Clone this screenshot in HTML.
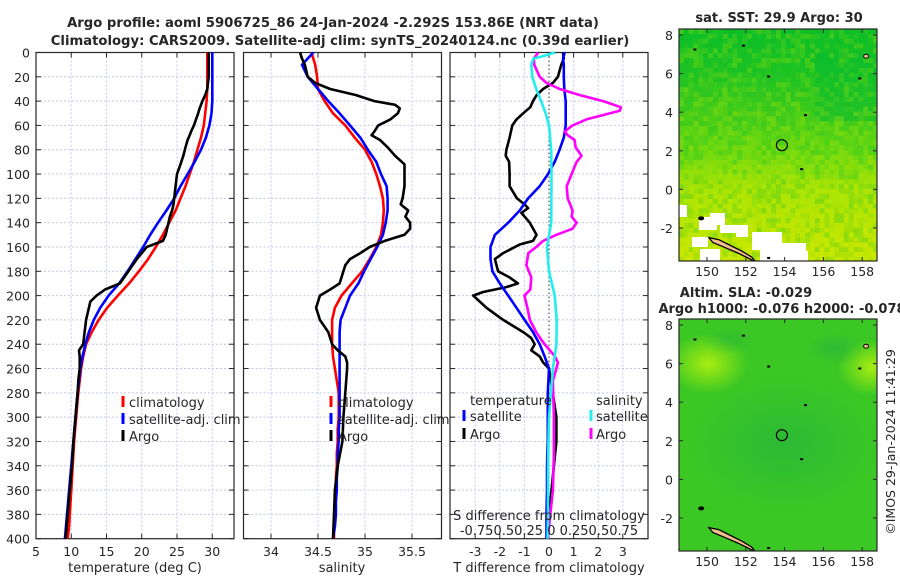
<!DOCTYPE html>
<html><head><meta charset="utf-8"><style>
body{margin:0;background:#fff}
svg{display:block;font-family:"DejaVu Sans","Liberation Sans",sans-serif}
text{fill:#262626}
</style></head><body>
<svg id="c" width="900" height="580" viewBox="0 0 900 580" xmlns="http://www.w3.org/2000/svg">
<defs>
<radialGradient id="yl" cx="0.5" cy="0.5" r="0.5"><stop offset="0" stop-color="#a8ec10"/><stop offset="1" stop-color="#a8ec10" stop-opacity="0"/></radialGradient>
<radialGradient id="dk" cx="0.5" cy="0.5" r="0.5"><stop offset="0" stop-color="#1fae44"/><stop offset="1" stop-color="#1fae44" stop-opacity="0"/></radialGradient>
<clipPath id="m1c"><rect x="679" y="29" width="198" height="232"/></clipPath>
<clipPath id="m2c"><rect x="679" y="319" width="198" height="232"/></clipPath>
</defs>
<g id="layer"></g>
</svg>
<script>
// ---- profile data (depth in m) ----
const depthsClim = [0,10,20,30,40,50,60,70,80,90,100,110,120,130,140,150,160,170,180,190,200,210,220,230,240,250,260,270,280,290,300,310,320,330,340,350,360,370,380,390,400];
const tempClim = [29.3,29.3,29.3,29.3,29.2,29.0,28.8,28.4,27.9,27.4,26.8,26.2,25.5,24.8,23.9,23.0,22.0,20.9,19.6,18.2,16.6,15.1,13.9,12.9,12.1,11.7,11.4,11.2,11.0,10.85,10.7,10.55,10.4,10.3,10.2,10.1,10.0,9.9,9.8,9.7,9.5];
const tempSat = [30.0,30.0,30.0,30.0,30.0,29.9,29.6,29.1,28.4,27.5,26.5,25.5,24.6,23.5,22.3,21.2,20.2,19.1,18.0,16.8,15.3,14.1,13.2,12.5,12.0,11.6,11.3,11.1,10.9,10.75,10.6,10.45,10.3,10.15,10.0,9.85,9.7,9.55,9.4,9.25,9.1];
const salClim = [34.43,34.47,34.49,34.50,34.57,34.66,34.79,34.89,35.00,35.07,35.12,35.16,35.19,35.20,35.19,35.17,35.12,35.05,34.97,34.86,34.75,34.68,34.65,34.65,34.65,34.66,34.68,34.70,34.72,34.72,34.72,34.71,34.71,34.70,34.70,34.69,34.69,34.68,34.68,34.67,34.67];
const salSat = [34.45,34.33,34.39,34.50,34.61,34.73,34.84,34.95,35.03,35.12,35.17,35.23,35.24,35.24,35.22,35.19,35.13,35.06,34.99,34.93,34.84,34.79,34.74,34.73,34.73,34.73,34.73,34.73,34.73,34.73,34.73,34.72,34.72,34.71,34.71,34.70,34.70,34.69,34.69,34.68,34.66];
const depthsArgo = [0,5,10,20,25,30,35,40,43,46,50,55,60,65,68,72,78,85,92,100,110,120,125,130,135,140,145,150,155,160,165,170,175,180,190,195,200,205,210,215,220,230,240,245,250,255,260,270,280,300,320,340,360,380,400];
const tempArgo = [29.5,29.5,29.5,29.5,29.4,29.3,29.0,28.6,28.4,28.2,28.0,27.7,27.4,27.0,26.8,26.5,26.2,25.9,25.5,25.0,24.8,24.6,24.5,24.3,24.0,23.8,23.6,23.4,23.0,20.7,20.0,19.3,18.7,18.1,16.9,14.8,13.6,12.7,12.5,12.3,12.1,11.9,11.7,11.1,11.2,11.2,11.2,11.0,10.9,10.6,10.3,10.1,9.8,9.5,9.2];
const salArgo = [34.31,34.33,34.36,34.39,34.47,34.63,34.90,35.10,35.32,35.37,35.35,35.27,35.14,35.10,35.07,35.16,35.24,35.32,35.42,35.42,35.42,35.40,35.38,35.46,35.43,35.48,35.48,35.42,35.21,35.05,34.95,34.84,34.79,34.77,34.73,34.63,34.52,34.50,34.48,34.50,34.52,34.61,34.65,34.71,34.79,34.81,34.81,34.80,34.79,34.77,34.76,34.71,34.68,34.67,34.66];
// ---- differences from climatology (panel 3) ----
const depthsArgoDiffT = [0,5,10,15,20,25,30,35,40,45,50,55,60,70,80,85,90,100,110,120,125,128,132,140,150,155,158,165,170,180,185,190,193,197,200,210,220,230,235,240,245,250,255,260,280,300,320,340,360,380,400];
const tArgoDiff = [0.57,0.6,0.5,0.43,0.36,0.16,-0.24,-0.5,-0.65,-0.76,-1.05,-1.32,-1.49,-1.6,-1.73,-1.76,-1.62,-1.6,-1.6,-1.3,-0.99,-0.85,-1.12,-0.78,-0.51,-0.65,-1.19,-1.86,-2.2,-2.07,-1.6,-1.26,-1.73,-2.68,-3.08,-2.54,-1.86,-1.05,-0.72,-0.58,-0.72,-0.38,-0.24,0.0,0.15,0.3,0.3,0.2,0.1,0.0,-0.05];
const depthsSatDiffT = [0,5,10,20,30,40,50,60,70,80,90,100,110,120,130,140,150,160,170,180,190,200,210,220,230,240,250,260,280,300,320,340,360,380,400];
const tSatDiff = [0.64,0.57,0.6,0.6,0.62,0.68,0.68,0.68,0.6,0.43,0.23,-0.04,-0.38,-0.85,-1.19,-1.66,-2.2,-2.38,-2.38,-2.3,-2.0,-1.66,-1.32,-0.99,-0.65,-0.38,-0.18,0.0,-0.05,-0.05,-0.05,-0.08,-0.08,-0.1,-0.1];
const depthsArgoDiffS = [0,5,10,20,25,30,35,40,45,48,50,55,60,65,68,72,78,85,90,100,110,120,130,135,140,145,150,155,160,165,175,185,195,200,210,220,230,235,240,250,255,260,270,300,330,360,390,400];
const sArgoDiff = [-0.11,-0.155,-0.15,-0.095,-0.025,0.11,0.31,0.55,0.73,0.72,0.62,0.38,0.24,0.16,0.19,0.26,0.27,0.33,0.28,0.23,0.18,0.19,0.24,0.23,0.28,0.24,0.075,-0.06,-0.13,-0.21,-0.23,-0.18,-0.19,-0.25,-0.22,-0.195,-0.13,-0.09,-0.045,0.06,0.09,0.075,0.04,0.05,0.05,0.04,0.0,-0.01];
const depthsSatDiffS = [0,3,5,10,20,30,40,50,60,80,100,140,160,180,200,220,240,260,280,300,340,380,400];
const sSatDiff = [0.06,-0.06,-0.16,-0.18,-0.17,-0.13,-0.08,-0.035,0.0,0.022,0.025,0.022,-0.02,0.0,0.058,0.078,0.075,0.04,0.02,0.0,-0.01,-0.01,-0.015];

const depthTicks = [0,20,40,60,80,100,120,140,160,180,200,220,240,260,280,300,320,340,360,380,400];
const tempTicks = [5,10,15,20,25,30];
const salTicks = [34,34.5,35,35.5];
const tdiffTicks = [-3,-2,-1,0,1,2,3];
const lonTicks = [150,152,154,156,158];
const latTicks = [8,6,4,2,0,-2];
const argoPos = [153.86,-2.292];

const NS='http://www.w3.org/2000/svg';
const L=document.getElementById('layer');
function el(tag,attrs,parent){const e=document.createElementNS(NS,tag);for(const k in attrs)e.setAttribute(k,attrs[k]);(parent||L).appendChild(e);return e;}
function txt(x,y,s,attrs,parent){const e=el('text',Object.assign({x:x,y:y},attrs||{}),parent);e.textContent=s;return e;}
const yD=d=>52.5+d*1.2155;
const xT=t=>36+(t-5)*7.05;
const xS=s=>271+(s-34)*94;
const xDT=v=>549+v*24.6;
const xDS=v=>549+v*98.4;
function line(ds,vs,fx,color,name){const pts=ds.map((d,i)=>fx(vs[i]).toFixed(1)+','+yD(d).toFixed(1)).join(' ');const p=el('polyline',{points:pts,fill:'none',stroke:color,'stroke-width':2.6,'stroke-linejoin':'round'});


return p;}

// titles
let t1=txt(333,27,'Argo profile: aoml 5906725_86 24-Jan-2024 -2.292S 153.86E (NRT data)',{'font-size':13.2,'font-weight':'bold','text-anchor':'middle'});


let t2=txt(340,45,'Climatology: CARS2009. Satellite-adj clim: synTS_20240124.nc (0.39d earlier)',{'font-size':13.2,'font-weight':'bold','text-anchor':'middle'});



const panels=[{x0:36,x1:234,name:'temperature-panel'},{x0:243.5,x1:441.5,name:'salinity-panel'},{x0:450,x1:648,name:'difference-panel'}];
panels.forEach((p,pi)=>{
  const g=el('g',{});
  
  
  depthTicks.forEach(d=>{el('line',{x1:p.x0,x2:p.x1,y1:yD(d),y2:yD(d),stroke:'#c4c8e6','stroke-width':1,'stroke-dasharray':'2,2'},g);
    el('line',{x1:p.x0,x2:p.x0+5,y1:yD(d),y2:yD(d),stroke:'#262626'},g);el('line',{x1:p.x1-5,x2:p.x1,y1:yD(d),y2:yD(d),stroke:'#262626'},g);});
  let xs,fx;
  if(pi==0){xs=tempTicks;fx=xT}else if(pi==1){xs=salTicks;fx=xS}else{xs=tdiffTicks;fx=xDT}
  xs.forEach(v=>{el('line',{x1:fx(v),x2:fx(v),y1:yD(0),y2:yD(400),stroke:'#c4c8e6','stroke-dasharray':'2,2'},g);
    el('line',{x1:fx(v),x2:fx(v),y1:yD(400),y2:yD(400)-5,stroke:'#262626'},g);el('line',{x1:fx(v),x2:fx(v),y1:yD(0),y2:yD(0)+5,stroke:'#262626'},g);
    const lt=txt(fx(v),556,String(v),{'font-size':12.5,'text-anchor':'middle'},g);
    
    });
  el('rect',{x:p.x0,y:yD(0),width:p.x1-p.x0,height:yD(400)-yD(0),fill:'none',stroke:'#262626','stroke-width':1.2},g);
});
depthTicks.forEach(d=>{const t=txt(30,yD(d)+5,String(d),{'font-size':12.5,'text-anchor':'end'});
  
  });
[['temperature (deg C)',135],['salinity',342],['T difference from climatology',549]].forEach(a=>{const t=txt(a[1],572,a[0],{'font-size':13,'text-anchor':'middle'});
  
  });

// panel 1
line(depthsClim,tempClim,xT,'#ff0000','temp-climatology-line');
line(depthsClim,tempSat,xT,'#0000ff','temp-satellite-line');
line(depthsArgo,tempArgo,xT,'#000000','temp-argo-line');
// panel 2
line(depthsClim,salClim,xS,'#ff0000','sal-climatology-line');
line(depthsClim,salSat,xS,'#0000ff','sal-satellite-line');
line(depthsArgo,salArgo,xS,'#000000','sal-argo-line');
// panel 3
el('line',{x1:549,x2:549,y1:yD(0),y2:yD(400),stroke:'#333','stroke-dasharray':'1.5,2.5','stroke-width':1});
line(depthsArgoDiffT,tArgoDiff,xDT,'#000000','tdiff-argo-line');
line(depthsSatDiffT,tSatDiff,xDT,'#0000ff','tdiff-satellite-line');
line(depthsArgoDiffS,sArgoDiff,xDS,'#ff00ff','sdiff-argo-line');
line(depthsSatDiffS,sSatDiff,xDS,'#22eeee','sdiff-satellite-line');

// legends
function legItem(mx,tx,y,color,label,name){const g=el('g',{});
  
  
  el('line',{x1:mx,x2:mx,y1:y-11,y2:y,stroke:color,'stroke-width':3},g);txt(tx,y,label,{'font-size':13},g);}
legItem(123,129,407,'#ff0000','climatology','legend-climatology');
legItem(123,129,424,'#0000ff','satellite-adj. clim','legend-satellite-adj');
legItem(123,129,441,'#000000','Argo','legend-argo');
legItem(331,338,407,'#ff0000','climatology','legend-climatology-sal');
legItem(331,338,424,'#0000ff','satellite-adj. clim','legend-satellite-adj-sal');
legItem(331,338,441,'#000000','Argo','legend-argo-sal');
let lt=txt(470,405,'temperature',{'font-size':13});
lt=txt(596,405,'salinity',{'font-size':13});
legItem(464,470,421,'#0000ff','satellite','legend-t-satellite');
legItem(464,470,439,'#000000','Argo','legend-t-argo');
legItem(591,596,421,'#22eeee','satellite','legend-s-satellite');
legItem(591,596,439,'#ff00ff','Argo','legend-s-argo');
lt=txt(549,520,'S difference from climatology',{'font-size':13,'text-anchor':'middle'});
lt=txt(549,535,'-0.750.50.25 0 0.250.50.75',{'font-size':13,'text-anchor':'middle'});

// ---- maps ----
const lonX=l=>707+(l-150)*19.4;
function hash(i,j){let h=(i*374761393+j*668265263)|0;h=(h^(h>>>13))*1274126177|0;return ((h^(h>>>16))>>>0)/4294967295;}
function mix(a,b,f){return a.map((v,k)=>Math.round(v+(b[k]-v)*f));}
function sstColor(lat,lon,n){
  const stops=[[8.3,[10,190,40]],[6,[30,195,35]],[4,[70,205,25]],[2,[100,215,18]],[0,[170,228,5]],[-3.7,[205,232,0]]];
  let c=stops[stops.length-1][1];
  for(let k=1;k<stops.length;k++){if(lat>=stops[k][0]){const f=(stops[k-1][0]-lat)/(stops[k-1][0]-stops[k][0]);c=mix(stops[k-1][1],stops[k][1],f);break;}}
  if(lon>155.5&&lat>3.5&&lat<7)c=mix(c,[0,185,50],0.5);
  c=mix(c,n>0.5?[20,190,40]:[190,230,0],Math.abs(n-0.5)*0.6);
  return 'rgb('+c.join(',')+')';
}
function drawMap(top,kind,name,titles){
  const latY=a=>top+6+(8-a)*19.3;
  const g=el('g',{'clip-path':kind==1?'url(#m1c)':'url(#m2c)'});
  
  
  if(kind==1){
    const cs=4.85;
    for(let i=0;i<41;i++)for(let j=0;j<48;j++){
      const x=679+i*cs,y=top+j*cs;const lon=150+(x+cs/2-707)/19.4;const lat=8-(y+cs/2-top-6)/19.3;
      el('rect',{x:x.toFixed(1),y:y.toFixed(1),width:cs+0.4,height:cs+0.4,fill:sstColor(lat,lon,hash(i,j))},g);
    }
    [[679,top+176,8,12],[699,top+188,18,13],[710,top+184,15,12],[692,top+208,16,10],[736,top+196,12,12],[752,top+203,30,18],[760,top+214,46,18],[768,top+226,14,6],[790,top+222,18,10],[780,top+232,60,10],[720,top+196,20,8],[700,top+220,20,14]].forEach(r=>el('rect',{x:r[0],y:r[1],width:r[2],height:r[3],fill:'#ffffff'},g));
  } else {
    el('rect',{x:679,y:top,width:198,height:232,fill:'#3cc824'},g);
    el('ellipse',{cx:708,cy:latY(6.0),rx:40,ry:30,fill:'url(#yl)'},g);
    el('ellipse',{cx:872,cy:latY(5.8),rx:34,ry:28,fill:'url(#yl)'},g);
    el('ellipse',{cx:785,cy:latY(1.8),rx:100,ry:70,fill:'url(#dk)',opacity:0.55},g);
    el('ellipse',{cx:835,cy:latY(6.8),rx:30,ry:18,fill:'url(#dk)',opacity:0.5},g);
    el('ellipse',{cx:730,cy:latY(7.2),rx:26,ry:14,fill:'url(#dk)',opacity:0.4},g);
  }
  const isl=[[150.1,-2.5],[150.6,-2.6],[151.2,-2.9],[151.8,-3.2],[152.3,-3.5],[152.5,-3.75],[152.2,-3.6],[151.6,-3.3],[150.9,-3.0],[150.3,-2.75]];
  el('polygon',{points:isl.map(p=>lonX(p[0])+','+latY(p[1])).join(' '),fill:'#f2c08c',stroke:'#000','stroke-width':1.3},g);
  el('ellipse',{cx:lonX(149.7),cy:latY(-1.5),rx:3,ry:2,fill:'#000'},g);
  el('ellipse',{cx:lonX(158.2),cy:latY(6.9),rx:2.5,ry:2,fill:'#f2c08c',stroke:'#000'},g);
  [[151.8,7.5],[149.3,7.3],[153.1,5.9],[155.0,3.9],[154.8,1.1],[157.8,5.8],[153.1,-3.5]].forEach(p=>el('rect',{x:lonX(p[0]),y:latY(p[1]),width:3,height:2,fill:'#000'},g));
  const c=el('circle',{cx:lonX(argoPos[0]),cy:latY(-argoPos[1]),r:5.5,fill:'none',stroke:'#000','stroke-width':1.2});
  
  
  el('rect',{x:679,y:top,width:198,height:232,fill:'none',stroke:'#262626','stroke-width':1.2});
  lonTicks.forEach(l=>{el('line',{x1:lonX(l),x2:lonX(l),y1:top+232,y2:top+228,stroke:'#262626'});el('line',{x1:lonX(l),x2:lonX(l),y1:top,y2:top+4,stroke:'#262626'});
    const t=txt(lonX(l),top+247,String(l),{'font-size':12.5,'text-anchor':'middle'});
    
    });
  latTicks.forEach(a=>{el('line',{x1:679,x2:683,y1:latY(a),y2:latY(a),stroke:'#262626'});el('line',{x1:877,x2:873,y1:latY(a),y2:latY(a),stroke:'#262626'});
    const t=txt(673,latY(a)+5,String(a),{'font-size':12.5,'text-anchor':'end'});
    
    });
  titles.forEach(tt=>{const t=txt(tt[0],tt[1],tt[2],{'font-size':13,'font-weight':'bold','text-anchor':'middle'});
    
    });
}
drawMap(29,1,'sst-map',[[779,22,'sat. SST: 29.9 Argo: 30']]);
drawMap(319,2,'sla-map',[[746,297,'Altim. SLA: -0.029'],[782,313,'Argo h1000: -0.076 h2000: -0.078']]);
const cr=txt(0,0,'©IMOS 29-Jan-2024 11:41:29',{'font-size':12.5,'text-anchor':'middle',transform:'translate(895,442) rotate(-90)'});


</script>
</body></html>
